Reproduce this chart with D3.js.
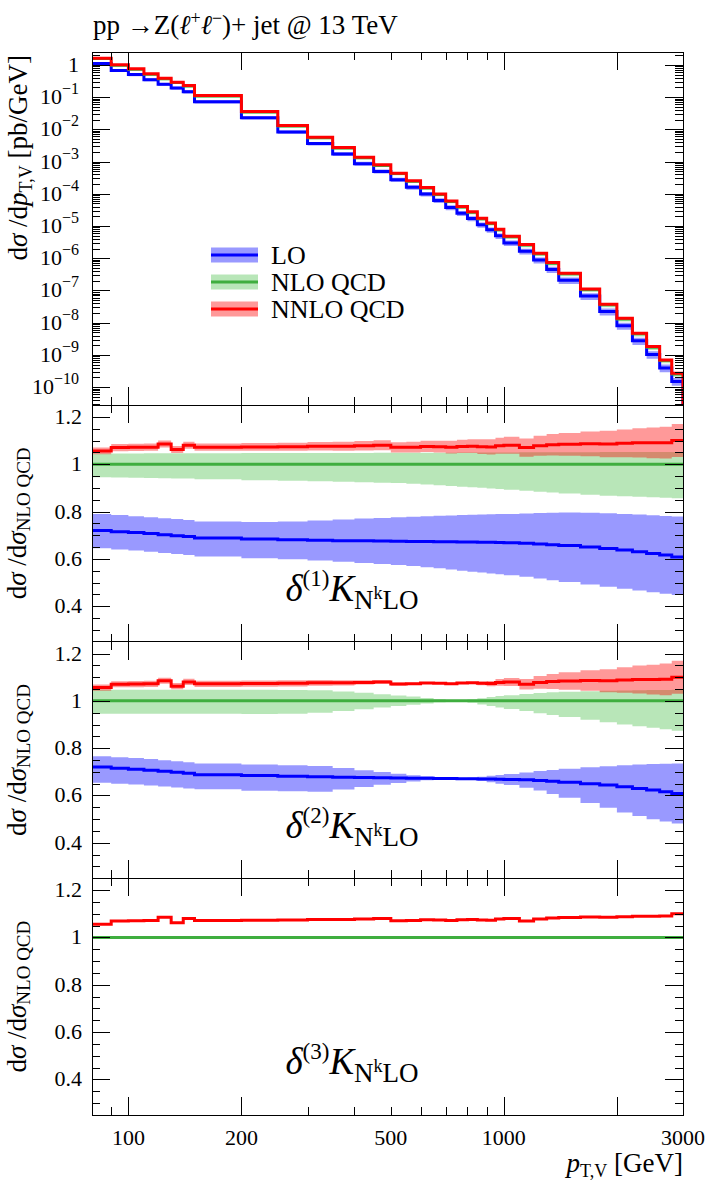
<!DOCTYPE html>
<html>
<head>
<meta charset="utf-8">
<script src="https://cdn.jsdelivr.net/npm/d3@7"></script>
<style>
    body { margin: 0; background: #fff; }
    svg text { font-family: "Liberation Serif", "DejaVu Serif", serif; fill: #000; }
</style>
</head>
<body>
<svg id="chart" width="712" height="1187"></svg>
<script>
// bin edges, GeV
let binEdges = [80, 90, 100, 110, 120, 130, 140, 150, 200, 250, 300, 350, 400, 450, 500, 550, 600, 650, 700, 750,
    800, 850, 900, 950, 1000, 1100, 1200, 1300, 1400, 1600, 1800, 2000, 2200, 2400, 2600, 2800, 3000];

// NNLO QCD distribution [pb/GeV]
let nnloXs = [1.61, 1.0, 0.751, 0.526, 0.386, 0.290, 0.228, 0.111, 0.0356, 0.0131, 0.00571, 0.00272, 0.00137,
    7.9e-4, 4.36e-4, 2.52e-4, 1.56e-4, 9.9e-5, 6.0e-5, 4.0e-5, 2.75e-5, 1.75e-5, 1.23e-5, 7.98e-6, 4.84e-6,
    2.66e-6, 1.44e-6, 7.35e-7, 3.44e-7, 1.12e-7, 3.76e-8, 1.38e-8, 4.74e-9, 1.82e-9, 7.03e-10, 2.72e-10];

// ratios to NLO QCD (central)
let kNNLO = [1.056, 1.070, 1.071, 1.072, 1.085, 1.062, 1.080, 1.072, 1.073, 1.074, 1.076, 1.076, 1.078, 1.080,
    1.071, 1.072, 1.075, 1.074, 1.072, 1.075, 1.076, 1.074, 1.073, 1.078, 1.080, 1.070, 1.078, 1.082, 1.084,
    1.086, 1.085, 1.088, 1.090, 1.090, 1.091, 1.100];
let kLO = [0.720, 0.715, 0.711, 0.707, 0.702, 0.698, 0.694, 0.688, 0.684, 0.681, 0.679, 0.677, 0.676, 0.675,
    0.674, 0.673, 0.673, 0.672, 0.672, 0.671, 0.671, 0.670, 0.670, 0.669, 0.668, 0.666, 0.663, 0.660, 0.656,
    0.650, 0.644, 0.637, 0.630, 0.623, 0.616, 0.608];

// delta(1) bands
let lo1Up = [0.789, 0.785, 0.780, 0.776, 0.772, 0.768, 0.764, 0.758, 0.756, 0.758, 0.762, 0.766, 0.770, 0.773,
    0.776, 0.778, 0.780, 0.782, 0.783, 0.785, 0.786, 0.787, 0.788, 0.789, 0.790, 0.792, 0.794, 0.795, 0.796,
    0.795, 0.793, 0.790, 0.787, 0.784, 0.781, 0.779];
let lo1Dn = [0.645, 0.640, 0.635, 0.630, 0.625, 0.620, 0.616, 0.610, 0.603, 0.598, 0.593, 0.588, 0.583, 0.578,
    0.574, 0.570, 0.565, 0.560, 0.555, 0.550, 0.546, 0.542, 0.538, 0.535, 0.531, 0.524, 0.517, 0.510, 0.502,
    0.492, 0.482, 0.474, 0.466, 0.459, 0.453, 0.447];
let nlo1Up = [1.045, 1.045, 1.045, 1.046, 1.046, 1.046, 1.046, 1.046, 1.047, 1.047, 1.047, 1.047, 1.047, 1.048,
    1.048, 1.048, 1.048, 1.048, 1.048, 1.049, 1.049, 1.049, 1.049, 1.049, 1.049, 1.050, 1.050, 1.050, 1.050,
    1.050, 1.051, 1.051, 1.051, 1.051, 1.051, 1.051];
let nlo1Dn = [0.945, 0.944, 0.943, 0.942, 0.941, 0.940, 0.939, 0.936, 0.932, 0.930, 0.928, 0.926, 0.924, 0.922,
    0.920, 0.917, 0.914, 0.911, 0.908, 0.905, 0.902, 0.900, 0.897, 0.895, 0.892, 0.888, 0.884, 0.880, 0.876,
    0.871, 0.867, 0.864, 0.862, 0.860, 0.858, 0.856];
let nnlo1Err = [0.014, 0.015, 0.015, 0.015, 0.015, 0.015, 0.015, 0.015, 0.016, 0.017, 0.018, 0.019, 0.020, 0.021,
    0.022, 0.023, 0.024, 0.025, 0.027, 0.028, 0.029, 0.031, 0.032, 0.034, 0.036, 0.039, 0.042, 0.045, 0.048,
    0.052, 0.056, 0.059, 0.062, 0.065, 0.067, 0.070];

// delta(2) bands
let lo2Up = [0.766, 0.762, 0.758, 0.754, 0.749, 0.745, 0.741, 0.735, 0.731, 0.728, 0.725, 0.716, 0.707, 0.699,
    0.692, 0.686, 0.681, 0.677, 0.674, 0.672, 0.675, 0.679, 0.683, 0.687, 0.691, 0.697, 0.703, 0.708, 0.713,
    0.719, 0.724, 0.728, 0.731, 0.733, 0.734, 0.735];
let lo2Dn = [0.654, 0.650, 0.646, 0.642, 0.638, 0.634, 0.630, 0.626, 0.620, 0.618, 0.616, 0.625, 0.636, 0.645,
    0.653, 0.659, 0.664, 0.667, 0.670, 0.670, 0.666, 0.661, 0.656, 0.650, 0.644, 0.633, 0.621, 0.606, 0.590,
    0.568, 0.548, 0.528, 0.513, 0.500, 0.490, 0.482];
let nlo2Up = [1.047, 1.047, 1.047, 1.047, 1.047, 1.047, 1.047, 1.047, 1.047, 1.046, 1.045, 1.040, 1.034, 1.028,
    1.023, 1.018, 1.012, 1.007, 1.003, 1.001, 1.006, 1.011, 1.016, 1.020, 1.024, 1.029, 1.033, 1.036, 1.038,
    1.041, 1.043, 1.044, 1.045, 1.046, 1.046, 1.047];
let nlo2Dn = [0.946, 0.946, 0.945, 0.945, 0.945, 0.945, 0.945, 0.945, 0.944, 0.945, 0.950, 0.957, 0.965, 0.972,
    0.978, 0.984, 0.989, 0.994, 0.998, 0.999, 0.992, 0.985, 0.978, 0.972, 0.966, 0.957, 0.948, 0.940, 0.932,
    0.920, 0.910, 0.900, 0.893, 0.886, 0.880, 0.874];
let nnlo2Err = [0.013, 0.013, 0.013, 0.013, 0.013, 0.013, 0.013, 0.013, 0.013, 0.013, 0.012, 0.011, 0.009, 0.008,
    0.007, 0.005, 0.004, 0.002, 0.001, 0.001, 0.004, 0.008, 0.011, 0.014, 0.017, 0.022, 0.027, 0.032, 0.037,
    0.043, 0.049, 0.054, 0.059, 0.063, 0.067, 0.070];

// axis ticks
let xMajorTicks = [100, 200, 1000, 2000];
let xMinorTicks = [90, 300, 400, 500, 600, 700, 800, 900];
let xTickLabels = [100, 200, 500, 1000, 3000];
let ratioMajorTicks = [0.4, 0.6, 0.8, 1.0, 1.2];
let ratioMinorTicks = [0.3, 0.35, 0.45, 0.5, 0.55, 0.65, 0.7, 0.75, 0.85, 0.9, 0.95, 1.05, 1.1, 1.15, 1.2];
let ratioTickLabels = ["0.4", "0.6", "0.8", "1", "1.2"];
let mainDecades = [0, -1, -2, -3, -4, -5, -6, -7, -8, -9, -10];

let legendNames = ["LO", "NLO QCD", "NNLO QCD"];

let colors = {
    lo: {line: "#0000ff", band: "rgba(0,0,255,0.4)"},
    nlo: {line: "#3fae3f", band: "rgba(0,165,0,0.28)"},
    nnlo: {line: "#ff0000", band: "rgba(255,0,0,0.4)"}
};

let svg = d3.select("#chart");
let left = 92, right = 683;
let panels = [
    {top: 52, bottom: 405},
    {top: 405, bottom: 641.7},
    {top: 641.7, bottom: 878.3},
    {top: 878.3, bottom: 1115}
];

let x = d3.scaleLog().domain([80, 3000]).range([left, right]);

// main panel series (NLO central derived from NNLO and its ratio)
let nloXs = nnloXs.map((v, i) => v / kNNLO[i]);
let loXs = nloXs.map((v, i) => v * kLO[i]);

function stepPts(lo, hi) {
    let pts = lo.map((v, i) => [binEdges[i], v, hi ? hi[i] : v]);
    pts.push([binEdges[lo.length], lo[lo.length - 1], hi ? hi[hi.length - 1] : lo[lo.length - 1]]);
    return pts;
}

function clipFor(i, p) {
    svg.append("clipPath").attr("id", "clip" + i)
        .append("rect")
        .attr("x", left).attr("y", p.top)
        .attr("width", right - left).attr("height", p.bottom - p.top);
}

function drawBand(g, y, lo, hi, fill) {
    let area = d3.area().curve(d3.curveStepAfter)
        .x(d => x(d[0])).y0(d => y(d[1])).y1(d => y(d[2]));
    g.append("path").attr("d", area(stepPts(lo, hi))).attr("fill", fill).attr("stroke", "none");
}

function drawLine(g, y, vals, color, width, drop) {
    let pts = stepPts(vals);
    if (drop) pts.push([binEdges[binEdges.length - 1], drop, drop]);
    let line = d3.line().curve(d3.curveStepAfter).x(d => x(d[0])).y(d => y(d[1]));
    g.append("path").attr("d", line(pts)).attr("fill", "none")
        .attr("stroke", color).attr("stroke-width", width);
}

function xTicks(p) {
    let g = svg.append("g").attr("shape-rendering", "crispEdges");
    [[xMajorTicks, 18], [xMinorTicks, 8]].forEach(([vals, len]) => {
        g.append("g").attr("transform", `translate(0,${p.top})`)
            .call(d3.axisTop(x).tickValues(vals).tickSize(-len).tickFormat(""))
            .call(a => a.select(".domain").remove());
        g.append("g").attr("transform", `translate(0,${p.bottom})`)
            .call(d3.axisBottom(x).tickValues(vals).tickSize(-len).tickFormat(""))
            .call(a => a.select(".domain").remove());
    });
}

function yTicks(y, major, minor) {
    let g = svg.append("g").attr("shape-rendering", "crispEdges");
    [[major, 18], [minor, 8]].forEach(([vals, len]) => {
        g.append("g").attr("transform", `translate(${left},0)`)
            .call(d3.axisLeft(y).tickValues(vals).tickSize(-len).tickFormat(""))
            .call(a => a.select(".domain").remove());
        g.append("g").attr("transform", `translate(${right},0)`)
            .call(d3.axisRight(y).tickValues(vals).tickSize(-len).tickFormat(""))
            .call(a => a.select(".domain").remove());
    });
}

// ---------- main panel ----------
let p0 = panels[0];
let yMain = d3.scaleLog().domain([2.8e-11, 2.5]).range([p0.bottom, p0.top]);
clipFor(0, p0);
let main = svg.append("g").attr("clip-path", "url(#clip0)");
drawBand(main, yMain, nloXs.map((v, i) => v * lo1Dn[i]), nloXs.map((v, i) => v * lo1Up[i]), colors.lo.band);
drawBand(main, yMain, nloXs.map((v, i) => v * nlo1Dn[i]), nloXs.map((v, i) => v * nlo1Up[i]), colors.nlo.band);
drawBand(main, yMain, nloXs.map((v, i) => v * (kNNLO[i] - nnlo1Err[i])),
    nloXs.map((v, i) => v * (kNNLO[i] + nnlo1Err[i])), colors.nnlo.band);
drawLine(main, yMain, loXs, colors.lo.line, 3, 1e-12);
drawLine(main, yMain, nloXs, colors.nlo.line, 2, 1e-12);
drawLine(main, yMain, nnloXs, colors.nnlo.line, 3, 1e-12);

let mainMajor = mainDecades.map(e => Math.pow(10, e));
let mainMinor = [];
for (let e = -11; e <= 0; e++) {
    for (let m = 2; m <= 9; m++) {
        let v = m * Math.pow(10, e);
        if (v > 2.8e-11 && v < 2.5) mainMinor.push(v);
    }
}
yTicks(yMain, mainMajor, mainMinor);
xTicks(p0);

mainDecades.forEach(e => {
    let t = svg.append("text").attr("x", 79).attr("y", yMain(Math.pow(10, e)) + 7)
        .attr("text-anchor", "end").style("font-size", "22px");
    if (e === 0) {
        t.text("1");
    } else {
        t.append("tspan").text("10");
        t.append("tspan").attr("dy", -10).style("font-size", "16px").text("−" + (-e));
    }
});

// legend
let legend = svg.append("g");
[colors.lo, colors.nlo, colors.nnlo].forEach((c, i) => {
    let cy = 255 + i * 27;
    legend.append("rect").attr("x", 211).attr("y", cy - 7.5).attr("width", 47).attr("height", 15)
        .attr("fill", c.band);
    legend.append("line").attr("x1", 211).attr("x2", 258).attr("y1", cy).attr("y2", cy)
        .attr("stroke", c.line).attr("stroke-width", 3);
    legend.append("text").attr("x", 271).attr("y", cy + 9).style("font-size", "26px").text(legendNames[i]);
});

// title
let title = svg.append("text").attr("x", 93).attr("y", 34).style("font-size", "27px");
title.append("tspan").text("pp →Z(");
title.append("tspan").style("font-style", "italic").text("ℓ");
title.append("tspan").attr("dy", -10).style("font-size", "18px").text("+");
title.append("tspan").attr("dy", 10).style("font-style", "italic").text("ℓ");
title.append("tspan").attr("dy", -10).style("font-size", "18px").text("−");
title.append("tspan").attr("dy", 10).text(")+ jet @ 13 TeV");

// main y label
let yl = svg.append("text").attr("transform", "translate(27,55) rotate(-90)")
    .attr("text-anchor", "end").style("font-size", "27px");
yl.append("tspan").text("d");
yl.append("tspan").style("font-style", "italic").text("σ");
yl.append("tspan").text(" /d");
yl.append("tspan").style("font-style", "italic").text("p");
yl.append("tspan").attr("dy", 5).style("font-size", "18px").text("T,V");
yl.append("tspan").attr("dy", -5).text(" [pb/GeV]");

// ---------- ratio panels ----------
let ratioSets = [
    {lo: [lo1Dn, lo1Up], nlo: [nlo1Dn, nlo1Up], nnlo: nnlo1Err, showLO: true},
    {lo: [lo2Dn, lo2Up], nlo: [nlo2Dn, nlo2Up], nnlo: nnlo2Err, showLO: true},
    {lo: null, nlo: null, nnlo: null, showLO: false}
];
let ones = kLO.map(() => 1);

ratioSets.forEach((set, k) => {
    let p = panels[k + 1];
    let y = d3.scaleLinear().domain([0.25, 1.25]).range([p.bottom, p.top]);
    clipFor(k + 1, p);
    let g = svg.append("g").attr("clip-path", `url(#clip${k + 1})`);
    if (set.lo) drawBand(g, y, set.lo[0], set.lo[1], colors.lo.band);
    if (set.nlo) drawBand(g, y, set.nlo[0], set.nlo[1], colors.nlo.band);
    if (set.nnlo) drawBand(g, y, kNNLO.map((v, i) => v - set.nnlo[i]), kNNLO.map((v, i) => v + set.nnlo[i]),
        colors.nnlo.band);
    if (set.showLO) drawLine(g, y, kLO, colors.lo.line, 3);
    drawLine(g, y, ones, colors.nlo.line, 3);
    drawLine(g, y, kNNLO, colors.nnlo.line, 3);

    yTicks(y, ratioMajorTicks, ratioMinorTicks);
    xTicks(p);

    ratioMajorTicks.forEach((v, i) => {
        svg.append("text").attr("x", 82).attr("y", y(v) + 7).attr("text-anchor", "end")
            .style("font-size", "22px").text(ratioTickLabels[i]);
    });

    let rl = svg.append("text")
        .attr("transform", `translate(26,${(p.top + p.bottom) / 2}) rotate(-90)`)
        .attr("text-anchor", "middle").style("font-size", "27px");
    rl.append("tspan").text("d");
    rl.append("tspan").style("font-style", "italic").text("σ");
    rl.append("tspan").text(" /d");
    rl.append("tspan").style("font-style", "italic").text("σ");
    rl.append("tspan").attr("dy", 4).style("font-size", "19px").text("NLO QCD");

    let dl = svg.append("text").attr("x", 352).attr("y", p.top + 196).attr("text-anchor", "middle");
    dl.append("tspan").style("font-style", "italic").style("font-size", "37px").text("δ");
    dl.append("tspan").attr("dy", -15).style("font-size", "23px").text(`(${k + 1})`);
    dl.append("tspan").attr("dy", 15).style("font-style", "italic").style("font-size", "37px").text("K");
    dl.append("tspan").attr("dy", 8).style("font-size", "27px").text("N");
    dl.append("tspan").attr("dy", -10).style("font-size", "18px").text("k");
    dl.append("tspan").attr("dy", 10).style("font-size", "27px").text("LO");
});

// frames
panels.forEach(p => {
    svg.append("rect").attr("x", left).attr("y", p.top)
        .attr("width", right - left).attr("height", p.bottom - p.top)
        .attr("fill", "none").attr("stroke", "#000").attr("stroke-width", 1)
        .attr("shape-rendering", "crispEdges");
});

// x tick labels and axis title
let last = panels[panels.length - 1];
xTickLabels.forEach(v => {
    svg.append("text").attr("x", x(v)).attr("y", last.bottom + 30).attr("text-anchor", "middle")
        .style("font-size", "22px").text(v);
});
let xl = svg.append("text").attr("x", right).attr("y", last.bottom + 57)
    .attr("text-anchor", "end").style("font-size", "27px");
xl.append("tspan").style("font-style", "italic").text("p");
xl.append("tspan").attr("dy", 5).style("font-size", "18px").text("T,V");
xl.append("tspan").attr("dy", -5).text(" [GeV]");
</script>
</body>
</html>
